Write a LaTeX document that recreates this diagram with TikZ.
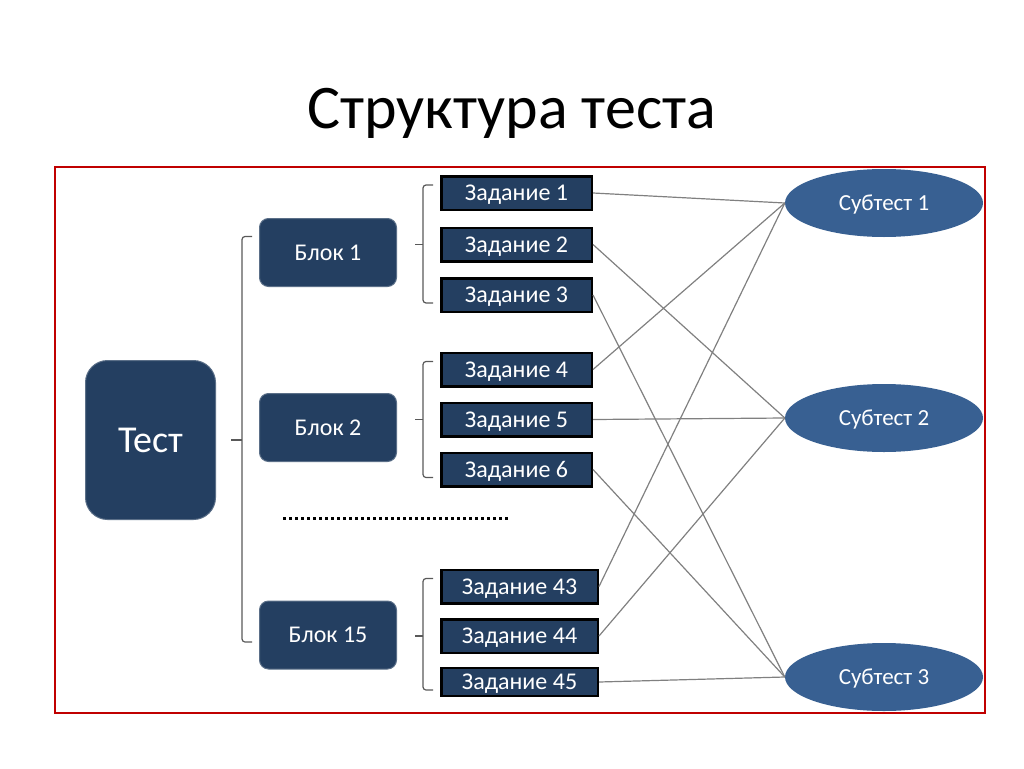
\documentclass[tikz,border=0pt]{standalone}
\usepackage{fontspec}
\setmainfont{Carlito}
\usetikzlibrary{calc,shapes.geometric}

\definecolor{navy}{RGB}{36,63,97}
\definecolor{steel}{RGB}{56,96,146}
\definecolor{ramka}{RGB}{192,0,0}

\begin{document}
\begin{tikzpicture}[x=1pt,y=-1pt,testbox/.style={shape=rectangle,rounded corners=22pt,fill=navy,draw=navy!75!white,line width=1pt,minimum width=130pt,minimum height=159pt,text=white,text depth=0pt,font=\fontsize{38}{38}\selectfont},blok/.style={shape=rectangle,rounded corners=9pt,fill=navy,draw=navy!75!white,line width=1pt,minimum width=137pt,minimum height=68pt,text=white,text depth=0pt,font=\fontsize{24}{24}\selectfont},zad/.style={shape=rectangle,fill=navy,draw=black,line width=2.5pt,inner sep=0pt,minimum width=150.5pt,minimum height=33.5pt,text=white,text depth=0pt,font=\fontsize{24}{24}\selectfont},zadW/.style={zad,minimum width=156.5pt},subt/.style={shape=ellipse,fill=steel,inner sep=0pt,minimum width=198pt,minimum height=68pt,text=white,text depth=0pt,font=\fontsize{23}{23}\selectfont},skob/.style={draw=gray!70!black,line width=1.2pt,rounded corners=3pt},link/.style={draw=gray,line width=1.2pt}]
\def\hk{7};
\def\vx{17};
\def\tk{25};
\def\dh{8};

\useasboundingbox (0,0) rectangle (1024,768);

\node[anchor=base,font=\fontsize{62}{62}\selectfont] (title) at (512,128) {Структура теста};

\draw[ramka,line width=2pt] (55,167) rectangle (985,713);

\node[testbox] (T) at (150.5,440) {Тест};

\node[blok] (B1) at (328,252.5) {Блок 1};
\node[blok] (B2) at (328,427.5) {Блок 2};
\node[blok] (B15) at (328,635) {Блок 15};

\node[zad] (Z1) at (516.5,193) {Задание 1};
\node[zad] (Z2) at (516.5,244.5) {Задание 2};
\node[zad] (Z3) at (516.5,295) {Задание 3};
\node[zad] (Z4) at (516.5,369.5) {Задание 4};
\node[zad] (Z5) at (516.5,419.5) {Задание 5};
\node[zad] (Z6) at (516.5,469.5) {Задание 6};
\node[zadW] (Z43) at (519.5,586.5) {Задание 43};
\node[zadW] (Z44) at (519.5,636) {Задание 44};
\node[zadW,minimum height=28pt] (Z45) at (519.5,682) {Задание 45};

\node[subt] (S1) at (884,203) {Субтест 1};
\node[subt] (S2) at (884,418) {Субтест 2};
\node[subt] (S3) at (884,677) {Субтест 3};

\draw[line width=3pt,dash pattern=on 3pt off 3pt] (283,518) -- (509,518);

% skobki
\draw[skob] ($(B1.west)+(-\hk,-16)$) -- ($(B1.west)+(-\vx,-16)$) -- ($(B15.west)+(-\vx,7)$) -- ($(B15.west)+(-\hk,7)$);
\draw[skob] ($(T.east)+(15,0)$) -- ($(T.east)+(26,0)$);
\foreach \a/\b/\c in {Z1/Z2/Z3,Z4/Z5/Z6,Z43/Z44/Z45}
{
\draw[skob] ($(\a.west)+(-\hk,-\dh)$) -- ($(\a.west)+(-\vx,-\dh)$) -- ($(\c.west)+(-\vx,\dh)$) -- ($(\c.west)+(-\hk,\dh)$);
\draw[skob] ($(\b.west)+(-\tk,0)$) -- ($(\b.west)+(-\vx,0)$);
}

% svyazi
\foreach \a/\b in {Z1/S1,Z4/S1,Z43/S1,Z2/S2,Z5/S2,Z44/S2,Z3/S3,Z6/S3,Z45/S3}
\draw[link] (\a.east) -- (\b.west);

\end{tikzpicture}
\end{document}
